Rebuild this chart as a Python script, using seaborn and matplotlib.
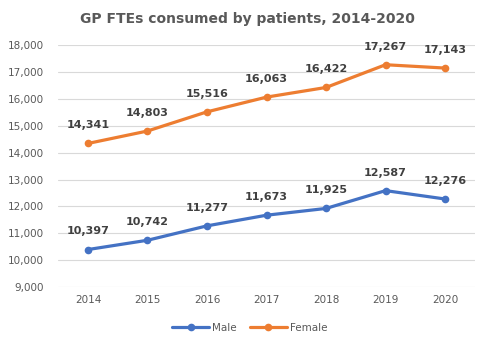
import matplotlib
matplotlib.use("Agg")
import matplotlib.pyplot as plt
import seaborn as sns
import pandas as pd

years = [2014, 2015, 2016, 2017, 2018, 2019, 2020]
male = [10397, 10742, 11277, 11673, 11925, 12587, 12276]
female = [14341, 14803, 15516, 16063, 16422, 17267, 17143]
series_names = ["Male", "Female"]
colors = ["#4472C4", "#ED7D31"]

df = pd.DataFrame({
    "Year": years * 2,
    "FTE": male + female,
    "Sex": ["Male"] * len(years) + ["Female"] * len(years),
})

sns.set_theme(style="white")
plt.rcParams["font.family"] = ["DejaVu Sans"]

fig = plt.figure(figsize=(4.85, 3.41), dpi=100)
ax = fig.add_axes([0.12, 0.158, 0.859, 0.71])

sns.lineplot(data=df, x="Year", y="FTE", hue="Sex", hue_order=series_names,
             palette=colors, marker="o", markersize=5.5, markeredgewidth=0,
             linewidth=2.3, ax=ax)

for vals in (male, female):
    for x, v in zip(years, vals):
        ax.annotate(f"{v:,}", (x, v), xytext=(0, 13), textcoords="offset points",
                    ha="center", va="center", fontsize=8, fontweight="bold",
                    color="#404040")

ax.set_xlim(2013.5, 2020.5)
ax.set_ylim(9000, 18000)
ax.set_yticks(range(9000, 18001, 1000))
ax.set_yticklabels([f"{t:,}" for t in range(9000, 18001, 1000)])
ax.set_xticks(years)
ax.yaxis.grid(True, color="#D9D9D9", linewidth=0.8)
ax.xaxis.grid(False)
for s in ax.spines.values():
    s.set_visible(False)
ax.tick_params(axis="y", length=0, labelsize=7.5, colors="#595959", pad=10)
ax.tick_params(axis="x", length=0, labelsize=7.5, colors="#595959", pad=6)
ax.set_xlabel("")
ax.set_ylabel("")

fig.suptitle("GP FTEs consumed by patients, 2014-2020", x=0.51, y=0.965,
             fontsize=10, fontweight="bold", color="#595959")

handles, labels = ax.get_legend_handles_labels()
ax.get_legend().remove()
fig.legend(handles, labels, loc="center", bbox_to_anchor=(0.515, 0.038),
           ncol=2, frameon=False, fontsize=7.5, labelcolor="#595959",
           handlelength=3.6, columnspacing=1.2, handletextpad=0.3)

fig.savefig("out.png", dpi=100)
